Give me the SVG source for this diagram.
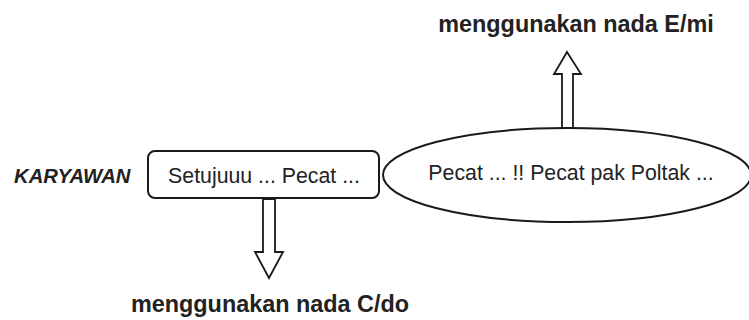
<svg xmlns="http://www.w3.org/2000/svg" width="749" height="320" viewBox="0 0 749 320">
  <style>
    .shape { fill: #fff; stroke: #1a1a1a; stroke-width: 2; }
    .arrow { fill: #fff; stroke: #1a1a1a; stroke-width: 1.8; stroke-linejoin: miter; }
    .txt { font-family: "Liberation Sans", Arial, sans-serif; fill: #222; }
    .lbl { font-size: 21.3px; }
    .bold { font-size: 23.4px; font-weight: bold; }
    .ital { font-size: 20.3px; font-weight: bold; font-style: italic; }
  </style>
  <rect width="749" height="320" fill="#fff"/>
  <g id="connectors">
    <polygon class="arrow" points="562,128 562,74 554,74 567,52 581,74 573,74 573,128"/>
    <polygon class="arrow" points="263,199 263,252 255,252 269,278 283,252 275,252 275,199"/>
  </g>
  <g id="karyawan">
    <text class="txt ital" x="14" y="183">KARYAWAN</text>
  </g>
  <g id="box">
    <rect class="shape" x="148" y="151" width="231" height="47" rx="7"/>
    <text class="txt lbl" x="264" y="183" text-anchor="middle">Setujuuu ... Pecat ...</text>
  </g>
  <g id="ellipse">
    <ellipse class="shape" cx="567" cy="175" rx="184" ry="47"/>
    <text class="txt lbl" x="571" y="180" text-anchor="middle">Pecat ... !! Pecat pak Poltak ...</text>
  </g>
  <g id="label-top">
    <text class="txt bold" x="576" y="32" text-anchor="middle">menggunakan nada E/mi</text>
  </g>
  <g id="label-bottom">
    <text class="txt bold" x="270" y="312" text-anchor="middle">menggunakan nada C/do</text>
  </g>
</svg>
